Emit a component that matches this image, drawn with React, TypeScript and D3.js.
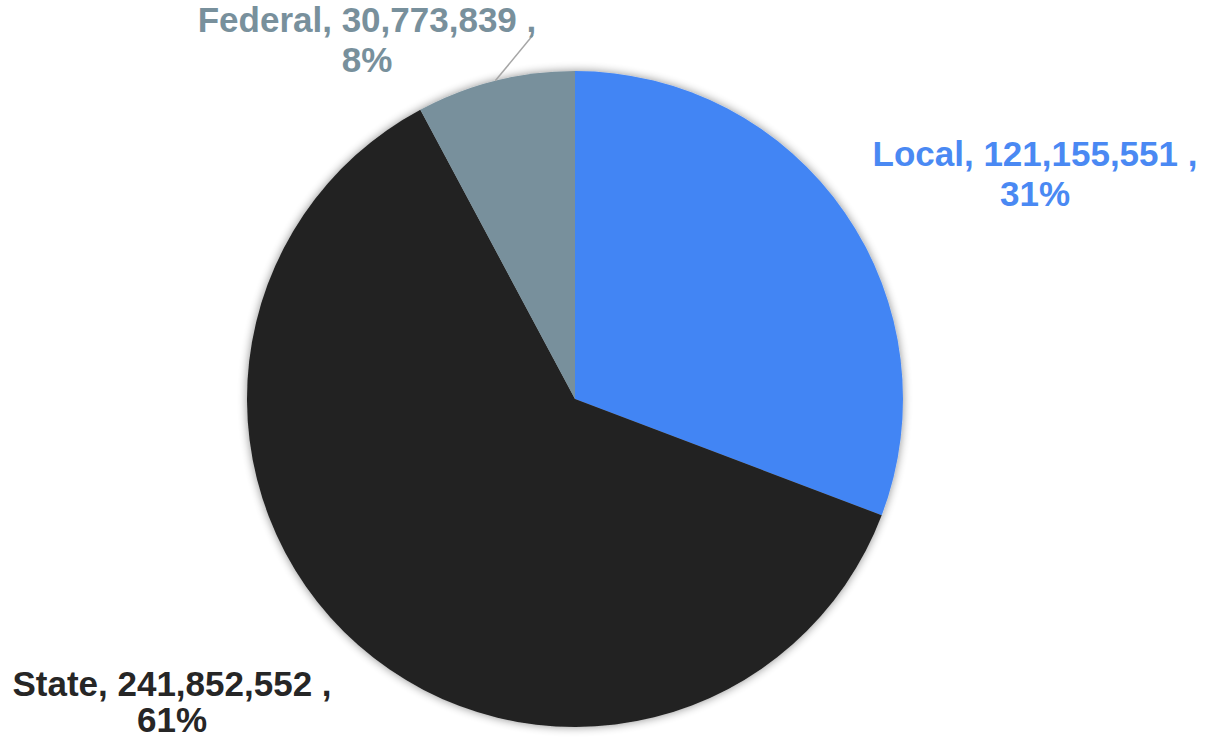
import React from "react";
import * as d3 from "d3";

const categories = ["Local", "State", "Federal"];
const values = [121155551, 241852552, 30773839];
const percentLabels = ["31%", "61%", "8%"];
const sliceColors = ["#4285F4", "#222222", "#78909C"];
const labelColors = ["#4A89F3", "#262626", "#78909C"];

const W = 1205;
const H = 740;
const cx = 575;
const cy = 399;
const R = 328;

// label anchor positions (center x, first baseline y, line gap)
const labelPos = [
  { x: 1035, y: 166, gap: 40 },
  { x: 172, y: 696, gap: 36 },
  { x: 367, y: 32, gap: 40 },
];

export default function App() {
  const data = categories.map((c, i) => ({ name: c, value: values[i], i }));
  const pie = d3.pie<any>().value((d) => d.value).sort(null);
  const arcs = pie(data);
  const arcGen = d3.arc<any>().innerRadius(0).outerRadius(R);
  const fmt = d3.format(",");

  // leader line for Federal, starting at the slice's mid-angle on the rim
  const fed = arcs[2];
  const midA = (fed.startAngle + fed.endAngle) / 2;
  const lx1 = cx + R * Math.sin(midA);
  const ly1 = cy - R * Math.cos(midA);

  return (
    <svg width={W} height={H} style={{ position: "absolute", left: 0, top: 0 }}>
      <defs>
        <filter id="sh" x="-10%" y="-10%" width="120%" height="120%">
          <feGaussianBlur in="SourceAlpha" stdDeviation="5" result="b" />
          <feComponentTransfer in="b" result="b2">
            <feFuncA type="linear" slope="0.45" />
          </feComponentTransfer>
          <feMerge>
            <feMergeNode in="b2" />
            <feMergeNode in="SourceGraphic" />
          </feMerge>
        </filter>
      </defs>
      <rect width={W} height={H} fill="#ffffff" />
      <g transform={`translate(${cx},${cy})`} filter="url(#sh)">
        {arcs.map((a, i) => (
          <path key={i} d={arcGen(a) as string} fill={sliceColors[i]} />
        ))}
      </g>
      <line x1={lx1} y1={ly1} x2={533} y2={35} stroke="#A6A6A6" strokeWidth={1.5} />
      {arcs.map((a, i) => {
        const p = labelPos[i];
        return (
          <text
            key={i}
            textAnchor="middle"
            fontFamily="'Liberation Sans', Arial, sans-serif"
            fontWeight="bold"
            fontSize={35}
            fill={labelColors[i]}
          >
            <tspan x={p.x} y={p.y}>{`${categories[i]}, ${fmt(values[i])} ,`}</tspan>
            <tspan x={p.x} y={p.y + p.gap}>{percentLabels[i]}</tspan>
          </text>
        );
      })}
    </svg>
  );
}
